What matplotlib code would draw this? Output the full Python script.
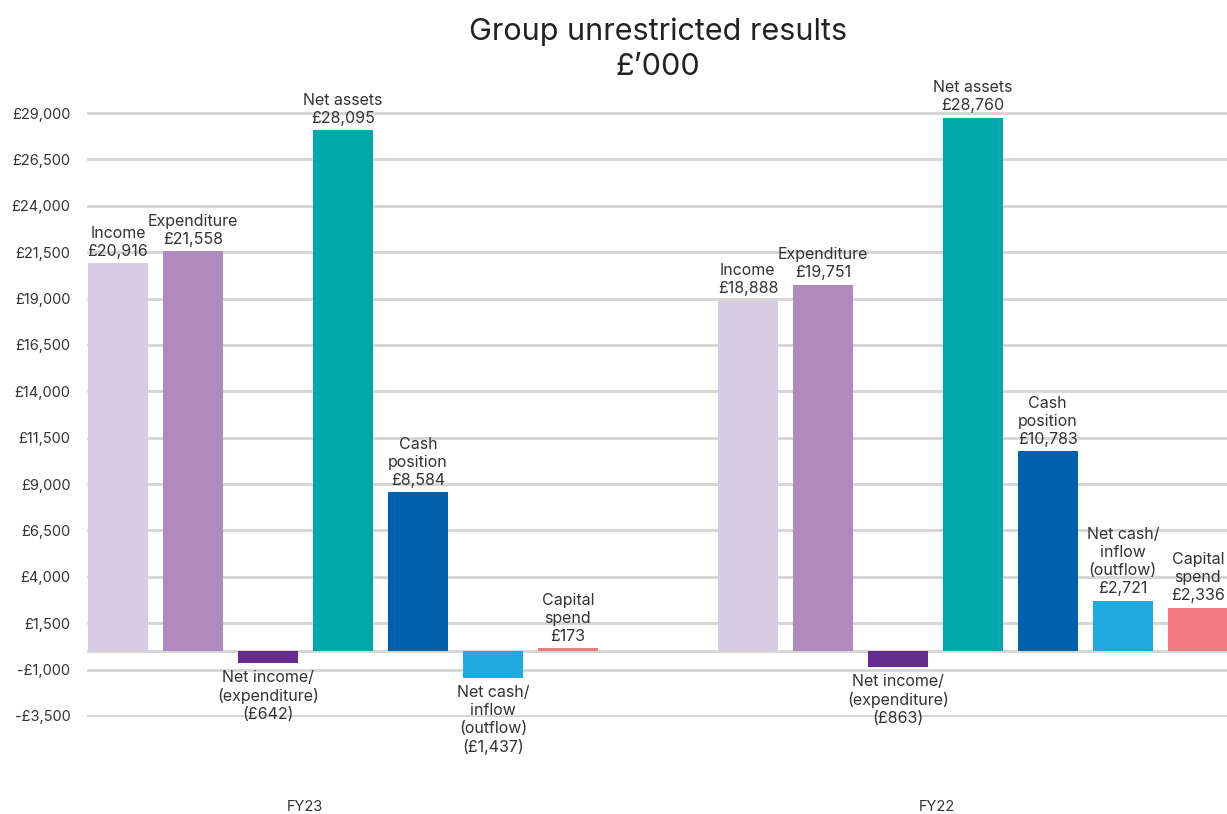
import matplotlib.pyplot as plt
import numpy as np

plt.rcParams['font.family'] = ['Inter', 'DejaVu Sans']

# data, £'000
years = ['FY23', 'FY22']
series = ['Income', 'Expenditure', 'Net income/\n(expenditure)', 'Net assets',
          'Cash\nposition', 'Net cash/\ninflow\n(outflow)', 'Capital\nspend']
fy23 = [20916, 21558, -642, 28095, 8584, -1437, 173]
fy22 = [18888, 19751, -863, 28760, 10783, 2721, 2336]
colors = ['#d6cce5', '#b08abe', '#652d8f', '#00a8ab', '#0060ae', '#21a9e1', '#f27a82']
yticks = np.arange(-3500, 29001, 2500)

group_gap = 8.4
bar_w = 0.8
text_col = '#333333'

fig = plt.figure(figsize=(12.27, 8.14), dpi=100)
ax = fig.add_axes([87 / 1227, 97 / 814, 1 - 87 / 1227, 605 / 814])

def money(v):
    if v < 0:
        return f'(£{-v:,})'
    return f'£{v:,}'

for g, vals in enumerate([fy23, fy22]):
    for i, v in enumerate(vals):
        x = g * group_gap + i
        ax.bar(x, v, width=bar_w, color=colors[i], zorder=3)
        txt = series[i] + '\n' + money(v)
        if v >= 0:
            ax.annotate(txt, (x, v), xytext=(0, 3), textcoords='offset points',
                        ha='center', va='bottom', fontsize=11.5, color=text_col,
                        linespacing=1.25, annotation_clip=False)
        else:
            ax.annotate(txt, (x, v), xytext=(0, -5), textcoords='offset points',
                        ha='center', va='top', fontsize=11.5, color=text_col,
                        linespacing=1.25, annotation_clip=False)

ax.set_xlim(-0.413, 14.79)
ax.set_ylim(-3560, 29060)
ax.set_yticks(yticks)
ax.set_yticklabels([('-£' if t < 0 else '£') + f'{abs(t):,}' for t in yticks])
ax.set_xticks([2.49, 10.92])
ax.set_xticklabels(years)
ax.tick_params(axis='y', length=0, pad=12, labelsize=10.5, labelcolor=text_col)
ax.tick_params(axis='x', length=0, pad=60, labelsize=10.5, labelcolor=text_col)
ax.grid(axis='y', color='#d4d4d4', linewidth=2, zorder=0)
ax.axhline(0, color='#d4d4d4', linewidth=2, zorder=1)
for s in ax.spines.values():
    s.set_visible(False)

fig.text(658 / 1227, 1 - 49 / 814, "Group unrestricted results\n£’000", ha='center', va='center',
         fontsize=22, color='#222222', linespacing=1.3)

fig.savefig('out.png', dpi=100)
